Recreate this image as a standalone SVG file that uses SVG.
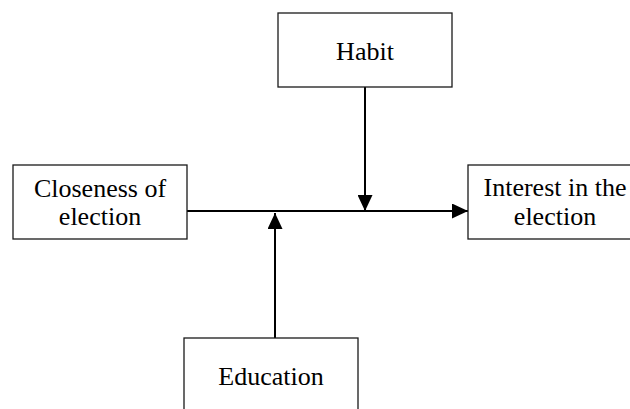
<svg xmlns="http://www.w3.org/2000/svg" width="630" height="409" viewBox="0 0 630 409">
  <defs>
    <style>
      .box { fill: #fff; stroke: #1a1a1a; stroke-width: 1.3; }
      .lbl { font-family: "Liberation Serif", "Times New Roman", serif; font-size: 26px; fill: #000; text-anchor: middle; }
      .conn { stroke: #000; stroke-width: 2; fill: none; marker-end: url(#arrow); }
    </style>
    <marker id="arrow" markerUnits="userSpaceOnUse" markerWidth="16" markerHeight="15" refX="16" refY="7.5" orient="auto">
      <path d="M0,0 L16,7.5 L0,15 Z" fill="#000"/>
    </marker>
  </defs>
  <rect width="630" height="409" fill="#fff"/>
  <g id="connectors">
    <line class="conn" x1="187" y1="211" x2="468" y2="211"/>
    <line class="conn" x1="365" y1="87" x2="365" y2="211"/>
    <line class="conn" x1="275" y1="338" x2="275" y2="213"/>
  </g>
  <g id="habit">
    <rect class="box" x="278" y="13" width="174" height="74"/>
    <text class="lbl" x="365" y="60">Habit</text>
  </g>
  <g id="closeness">
    <rect class="box" x="13" y="165" width="174" height="74"/>
    <text class="lbl" x="100" y="197">Closeness of</text>
    <text class="lbl" x="100" y="225">election</text>
  </g>
  <g id="interest">
    <rect class="box" x="468" y="165" width="174" height="74"/>
    <text class="lbl" x="555" y="196">Interest in the</text>
    <text class="lbl" x="555" y="225">election</text>
  </g>
  <g id="education">
    <rect class="box" x="184" y="338" width="174" height="74"/>
    <text class="lbl" x="271" y="385">Education</text>
  </g>
</svg>
